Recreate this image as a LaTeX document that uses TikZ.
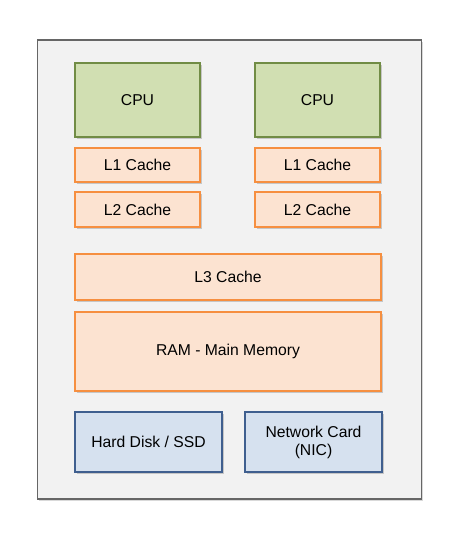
\documentclass[tikz,border=0pt]{standalone}
\usepackage{fontspec}
\setmainfont{Liberation Sans}
\usetikzlibrary{shadows}
\definecolor{outerfill}{HTML}{F2F2F2}
\definecolor{outerdraw}{HTML}{666666}
\definecolor{greenfill}{HTML}{D1DFB2}
\definecolor{greendraw}{HTML}{718C45}
\definecolor{orangefill}{HTML}{FCE3D1}
\definecolor{orangedraw}{HTML}{F68F40}
\definecolor{bluefill}{HTML}{D6E1EF}
\definecolor{bluedraw}{HTML}{3F5F8F}
\tikzset{
  x=1pt,y=-1pt,
  box/.style={draw, line width=1.6pt, font=\fontsize{15.7}{18}\selectfont, align=center, inner sep=0pt,
    drop shadow={shadow xshift=1.5pt, shadow yshift=-1.5pt, fill=black, opacity=0.18}},
  cpubox/.style={box, fill=greenfill, draw=greendraw},
  cachebox/.style={box, fill=orangefill, draw=orangedraw},
  devbox/.style={box, fill=bluefill, draw=bluedraw},
}
\newcommand{\boxat}[6]{\node[#1, minimum width=#4-#2, minimum height=#5-#3] (#6) at ({(#2+#4)/2},{(#3+#5)/2})}
\begin{document}
\begin{tikzpicture}
\useasboundingbox (0,0) rectangle (463,544);
\node[draw=outerdraw, fill=outerfill, line width=1.3pt, minimum width=384, minimum height=459, inner sep=0pt,
  drop shadow={shadow xshift=1.5pt, shadow yshift=-1.5pt, fill=black, opacity=0.15}] (outer) at (229.5,269.5) {};
\boxat{cpubox}{75}{63}{200}{137}{cpu1} {CPU};
\boxat{cpubox}{255}{63}{380}{137}{cpu2} {CPU};
\boxat{cachebox}{75}{148}{200}{182}{l1a} {L1 Cache};
\boxat{cachebox}{255}{148}{380}{182}{l1b} {L1 Cache};
\boxat{cachebox}{75}{192}{200}{227}{l2a} {L2 Cache};
\boxat{cachebox}{255}{192}{380}{227}{l2b} {L2 Cache};
\boxat{cachebox}{75}{254}{381}{300}{l3} {L3 Cache};
\boxat{cachebox}{75}{312}{381}{391}{ram} {RAM - Main Memory};
\boxat{devbox}{75}{412}{222}{472}{disk} {Hard Disk / SSD};
\boxat{devbox}{245}{412}{382}{472}{nic} {Network Card\\(NIC)};
\end{tikzpicture}
\end{document}
